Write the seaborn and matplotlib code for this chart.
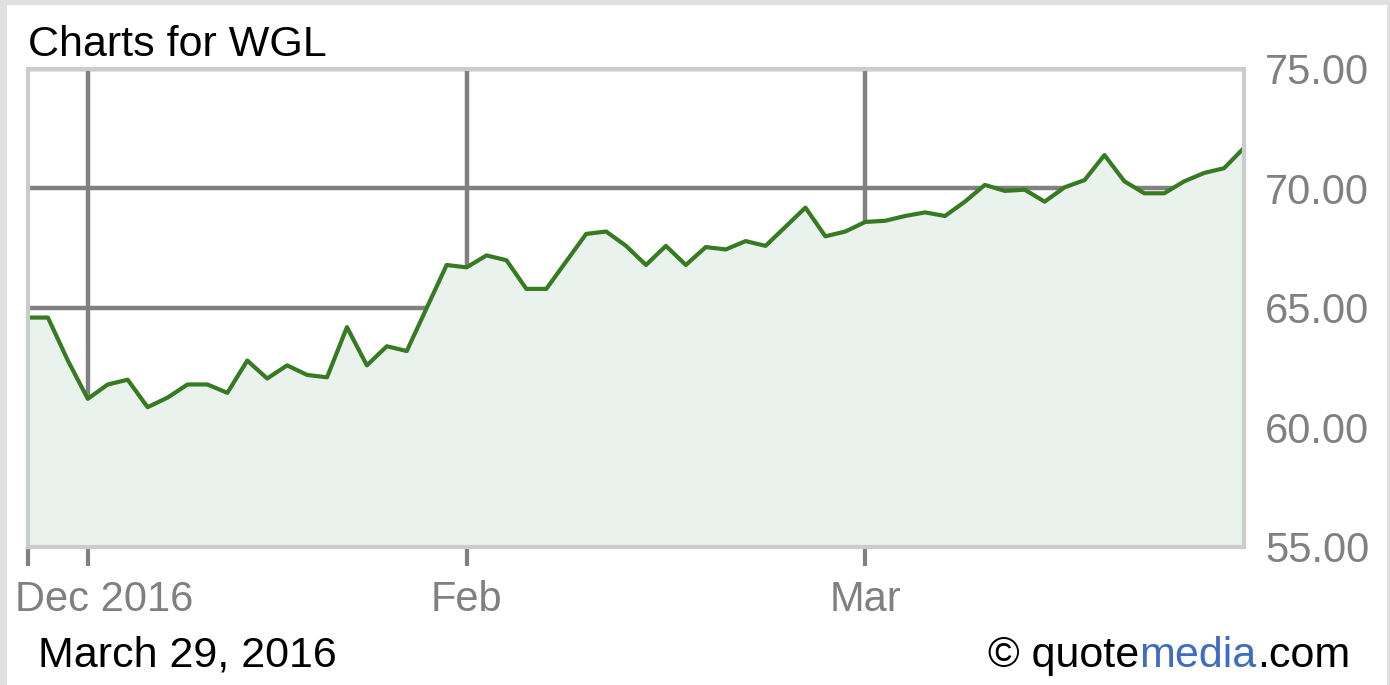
import matplotlib
matplotlib.use("Agg")
import matplotlib.pyplot as plt
import matplotlib.transforms as mtransforms
import numpy as np
import pandas as pd
import seaborn as sns

# WGL daily closes, one value per trading day (Dec 29 -> Mar 30)
price = [64.6, 64.6, 62.8, 61.2, 61.8, 62.0, 60.85, 61.25, 61.8, 61.8,
         61.45, 62.8, 62.05, 62.6, 62.2, 62.1, 64.2, 62.6, 63.4, 63.2,
         65.0, 66.8, 66.7, 67.2, 67.0, 65.8, 65.8, 66.95, 68.1, 68.2,
         67.6, 66.8, 67.6, 66.8, 67.55, 67.45, 67.8, 67.6, 68.4, 69.2,
         68.0, 68.2, 68.6, 68.65, 68.85, 69.0, 68.85, 69.45, 70.15, 69.9,
         69.95, 69.45, 70.05, 70.35, 71.4, 70.3, 69.8, 69.8, 70.3, 70.65,
         70.85, 71.7]
day = list(range(len(price)))

# month boundaries (trading-day index) and their labels
month_ticks = [3, 22, 42]
month_labels = ["", "Feb", "Mar"]
start_tick = [0]
start_label = ["Dec 2016"]

y_ticks = [55, 60, 65, 70, 75]
y_labels = ["55.00", "60.00", "65.00", "70.00", "75.00"]

title = "Charts for WGL"
date_text = "March 29, 2016"

sns.set_style("white")
plt.rcParams["font.family"] = ["Liberation Sans", "DejaVu Sans"]

W, H = 1390, 685
fig = plt.figure(figsize=(W / 100, H / 100), dpi=100)
fig.patch.set_facecolor("#e0e0e0")

# white card inside the light grey frame
card = plt.Rectangle((7 / W, 0), (W - 10) / W, (H - 5) / H,
                     transform=fig.transFigure, facecolor="white",
                     edgecolor="none", zorder=-10)
fig.add_artist(card)

left, right, top, bottom = 28, 1244, 69, 547
ax = fig.add_axes([left / W, 1 - bottom / H, (right - left) / W, (bottom - top) / H])

df = pd.DataFrame({"day": day, "price": price})
line_color = "#367a22"
fill_color = "#e9f2ec"

ax.fill_between(df["day"], df["price"], 55, color=fill_color, lw=0, zorder=1)
sns.lineplot(data=df, x="day", y="price", ax=ax, color=line_color,
             lw=3.0, zorder=3)

ax.set_xlim(0, len(price) - 1)
ax.set_ylim(55, 75)

ax.set_xticks(month_ticks)
ax.set_xticklabels(month_labels)
ax.set_xticks(start_tick, minor=True)
ax.set_xticklabels(start_label, minor=True)
ax.set_yticks(y_ticks)
ax.set_yticklabels(y_labels)

ax.yaxis.tick_right()
ax.tick_params(axis="y", which="both", length=0, pad=15,
               labelsize=30, labelcolor="#808080")
ax.tick_params(axis="x", which="both", length=14, width=3, color="#808080",
               pad=10, labelsize=30, labelcolor="#808080", direction="out",
               bottom=True)

# "Dec 2016" sits left-aligned at the start of the axis
for lab in ax.get_xticklabels(minor=True):
    lab.set_ha("left")
    lab.set_transform(lab.get_transform() +
                      mtransforms.ScaledTranslation(-13 / 100, 0, fig.dpi_scale_trans))

ax.set_axisbelow(True)
ax.grid(True, which="major", color="#808080", lw=3.2)
for s in ax.spines.values():
    s.set_color("#cccccc")
    s.set_linewidth(3)
    s.set_visible(True)
    s.set_zorder(4)
ax.set_xlabel("")
ax.set_ylabel("")
ax.set_facecolor("white")

fig.text(28 / W, 1 - 56 / H, title, fontsize=31, color="black",
         ha="left", va="baseline")
fig.text(38 / W, 1 - 667 / H, date_text, fontsize=31, color="black",
         ha="left", va="baseline")

# "© quotemedia.com" assembled right to left so the colours can differ
fig.canvas.draw()
renderer = fig.canvas.get_renderer()
x_right = 1350
base = 1 - 667 / H
for part, col in [(".com", "black"), ("media", "#3d6cc0"), ("© quote", "black")]:
    t = fig.text(x_right / W, base, part, fontsize=31, color=col,
                 ha="right", va="baseline")
    bb = t.get_window_extent(renderer)
    x_right = bb.x0

fig.savefig("out.png", dpi=100, facecolor=fig.get_facecolor())
